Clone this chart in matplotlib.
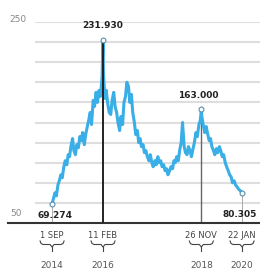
import pandas as pd
import matplotlib.pyplot as plt
import matplotlib.dates as mdates

# half-monthly closing values, Sep 2014 - Dec 2019
dates = pd.date_range("2014-09-01", "2019-12-15", freq="SMS")
values = [69, 74, 80, 77, 88, 92, 98, 95,
          106, 112, 108, 118, 116, 126, 134, 122, 118, 128, 125, 136,
          132, 140, 128, 138, 146, 152, 160, 148, 172, 166, 180, 170,
          182, 176, 195, 200, 174, 182, 168, 160, 158, 172, 180, 166,
          160, 150, 142, 156, 148, 170, 176, 190, 186, 170, 178, 160,
          150, 138, 142, 130, 134, 126, 128, 120, 122, 116, 112, 118,
          110, 106, 112, 108, 116, 110, 112, 106, 108, 102, 104, 98,
          102, 106, 104, 112, 110, 116, 112, 122, 130, 150, 126, 120,
          118, 126, 122, 116, 124, 130, 140, 136, 148, 152, 156, 148,
          140, 146, 138, 132, 134, 126, 122, 118, 124, 120, 126, 122,
          116, 118, 110, 106, 102, 98, 96, 90, 92, 88, 86, 84]

# highlighted points
key_dates = pd.to_datetime(["2014-09-01", "2016-02-11", "2018-11-26", "2020-01-22"])
key_values = [69.274, 231.930, 163.000, 80.305]
key_labels = ["69.274", "231.930", "163.000", "80.305"]
day_labels = ["1 SEP", "11 FEB", "26 NOV", "22 JAN"]
year_labels = ["2014", "2016", "2018", "2020"]

s = pd.Series(values[:len(dates)], index=dates)
s = pd.concat([s, pd.Series(key_values[1:], index=key_dates[1:])]).sort_index()
s = s[~s.index.duplicated()]

fig = plt.figure(figsize=(2.6, 2.75), dpi=100)
ax = fig.add_axes([0.135, 0.189, 0.865, 0.731])
ax.set_xlim(pd.Timestamp("2014-03-09"), pd.Timestamp("2020-07-26"))
ax.set_ylim(50, 250)

for spine in ax.spines.values():
    spine.set_visible(False)
ax.set_xticks([])
ax.set_yticks([])

# gridlines
for g in range(70, 251, 20):
    ax.axhline(g, color="#dedede", lw=1.5, zorder=0)

# baseline extends to the left under the 50 label
ax.plot([-0.12, 1], [0, 0], transform=ax.transAxes, color="#333333",
        lw=1.5, clip_on=False, zorder=3)
fig.text(0.04, (275 - 214) / 275, "50", fontsize=6.5, color="#888888", va="center")
fig.text(0.035, (275 - 19) / 275, "250", fontsize=6.5, color="#888888", va="center")

ax.plot(s.index, s.values, color="#3aaee6", lw=2.2, zorder=2)

# drop lines
ax.vlines(key_dates[1], 50, key_values[1], color="#222222", lw=1.4, zorder=3)
ax.vlines(key_dates[2], 50, key_values[2], color="#666666", lw=1.0, zorder=1)
ax.vlines(key_dates[0], 50, key_values[0], color="#aaaaaa", lw=0.7, zorder=1)
ax.vlines(key_dates[3], 50, key_values[3], color="#aaaaaa", lw=0.7, zorder=1)
ax.plot(key_dates, key_values, "o", ms=3.5, mfc="white", mec="#5a8fb0",
        mew=0.8, zorder=4, linestyle="none")

lab = dict(textcoords="offset points", ha="center", va="bottom",
           fontsize=6.5, fontweight="bold", color="#222222")
ax.annotate(key_labels[1], (key_dates[1], key_values[1]), xytext=(0, 7), **lab)
ax.annotate(key_labels[2], (key_dates[2], key_values[2]), xytext=(-2, 7), **lab)
ax.annotate(key_labels[0], (key_dates[0], 50), xytext=(2, 2), **lab)
ax.annotate(key_labels[3], (key_dates[3], 50), xytext=(-2, 3), **lab)

# date labels with braces under the axis
H = 275.0
for d, dl, yl in zip(key_dates, day_labels, year_labels):
    xp = ax.transData.transform((mdates.date2num(d), 50))[0]
    xf = xp / 260.0
    fig.text(xf, (H - 235) / H, dl, fontsize=6, color="#444444", ha="center", va="center")
    fig.text(xf, (H - 266) / H, yl, fontsize=6.5, color="#555555", ha="center", va="center")
    bx = [-12, -11, -9, -2, 0, 2, 9, 11, 12]
    by = [4, 1.5, 0.5, 0.5, -2, 0.5, 0.5, 1.5, 4]
    yb = H - 245
    fig.lines.append(plt.Line2D([(xp + u) / 260 for u in bx], [(yb + v) / H for v in by],
                                transform=fig.transFigure, color="#444444", lw=0.8))
    fig.lines.append(plt.Line2D([xf, xf], [(yb - 2) / H, (yb - 6) / H],
                                transform=fig.transFigure, color="#444444", lw=0.8))

fig.savefig("out.png", dpi=100)
